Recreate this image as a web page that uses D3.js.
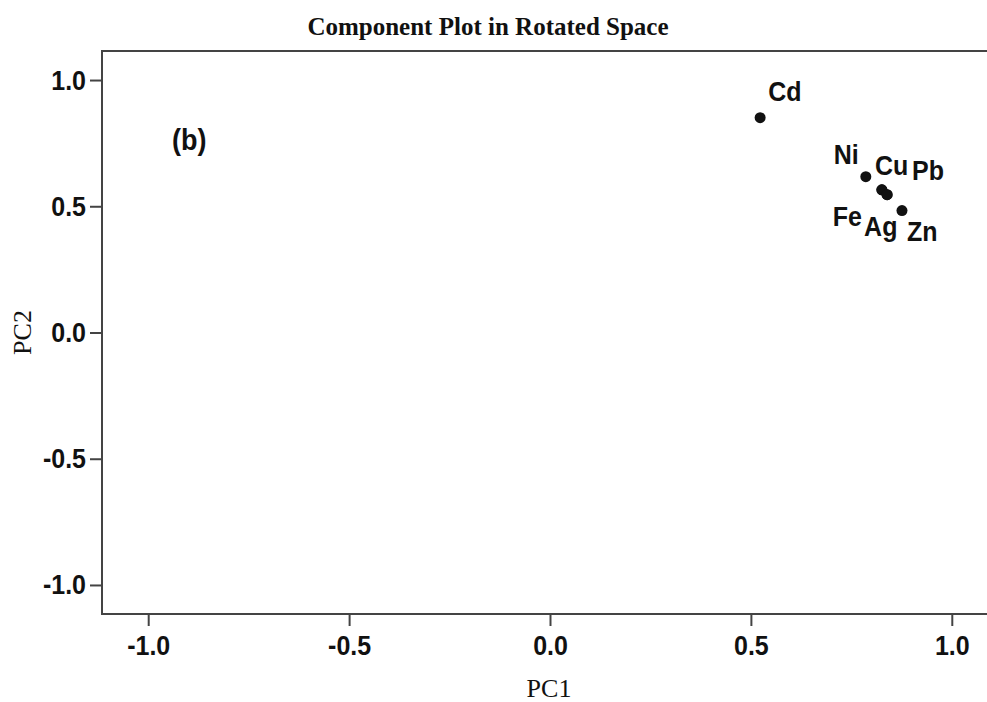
<!DOCTYPE html>
<html>
<head>
<meta charset="utf-8">
<script src="https://cdn.jsdelivr.net/npm/d3@7/dist/d3.min.js"></script>
<style>
  html, body { margin: 0; padding: 0; background: #fff; }
  svg { display: block; }
</style>
</head>
<body>
<div id="chart"></div>
<script>
// Rotated component loadings for each element
const elements = ["Cd", "Ni", "Cu", "Fe", "Pb", "Ag", "Zn"];
const pc1 = [0.523, 0.786, 0.826, 0.826, 0.839, 0.839, 0.876];
const pc2 = [0.851, 0.617, 0.565, 0.565, 0.546, 0.546, 0.483];
const tickValues = [-1.0, -0.5, 0.0, 0.5, 1.0];

// Label placement around each marker (pixel offsets, text anchor)
const labelPlacement = {
  Cd: { dx: 8,   dy: -17, anchor: "start" },
  Ni: { dx: -7,  dy: -13, anchor: "end" },
  Cu: { dx: -7,  dy: -15, anchor: "start" },
  Pb: { dx: 25,  dy: -15, anchor: "start" },
  Fe: { dx: -20, dy: 36,  anchor: "end" },
  Ag: { dx: -23, dy: 41,  anchor: "start" },
  Zn: { dx: 5,   dy: 30,  anchor: "start" }
};

const width = 987, height = 702;
const frame = { left: 102, top: 51, right: 998, bottom: 614 };
const stretch = 1.12; // vertical stretch of sans-serif glyphs

const points = elements.map((name, i) => ({ name, x: pc1[i], y: pc2[i] }));

const svg = d3.select("#chart").append("svg")
  .attr("width", width).attr("height", height);

const domain = [-1.115, 1.115];
const x = d3.scaleLinear().domain(domain).range([frame.left, frame.right]);
const y = d3.scaleLinear().domain(domain).range([frame.bottom, frame.top]);

const fmt = d => d.toFixed(1);
const sans = "'Liberation Sans', Arial, sans-serif";
const serif = "'Liberation Serif', 'Times New Roman', serif";
const ink = "#111";
const line = "#444";

// Plot frame
svg.append("rect")
  .attr("x", frame.left).attr("y", frame.top)
  .attr("width", frame.right - frame.left)
  .attr("height", frame.bottom - frame.top)
  .attr("fill", "none").attr("stroke", line).attr("stroke-width", 2);

// Bottom axis
const gx = svg.append("g")
  .attr("transform", `translate(0,${frame.bottom})`)
  .call(d3.axisBottom(x).tickValues(tickValues).tickFormat(fmt)
    .tickSize(12).tickPadding(7).tickSizeOuter(0));
gx.select(".domain").remove();
gx.selectAll(".tick line").attr("stroke", line).attr("stroke-width", 2);
gx.selectAll(".tick text").attr("fill", ink)
  .attr("transform", `scale(1,${stretch})`)
  .style("font-family", sans).style("font-weight", "bold").style("font-size", "25px");

// Left axis
const gy = svg.append("g")
  .attr("transform", `translate(${frame.left},0)`)
  .call(d3.axisLeft(y).tickValues(tickValues).tickFormat(fmt)
    .tickSize(12).tickPadding(4).tickSizeOuter(0));
gy.select(".domain").remove();
gy.selectAll(".tick line").attr("stroke", line).attr("stroke-width", 2);
gy.selectAll(".tick text").attr("fill", ink)
  .attr("transform", `scale(1,${stretch})`)
  .style("font-family", sans).style("font-weight", "bold").style("font-size", "25px");

// Title
svg.append("text")
  .attr("x", 488).attr("y", 35)
  .attr("text-anchor", "middle")
  .attr("fill", ink)
  .style("font-family", serif).style("font-weight", "bold").style("font-size", "25px")
  .text("Component Plot in Rotated Space");

// Axis titles
svg.append("text")
  .attr("x", 549).attr("y", 697)
  .attr("text-anchor", "middle").attr("fill", ink)
  .style("font-family", serif).style("font-size", "26px")
  .text("PC1");

svg.append("text")
  .attr("transform", `translate(31,${y(0)}) rotate(-90)`)
  .attr("text-anchor", "middle").attr("fill", ink)
  .style("font-family", serif).style("font-size", "26px")
  .text("PC2");

// Panel tag
svg.append("text")
  .attr("transform", `translate(172,150) scale(1,${stretch})`)
  .attr("fill", ink)
  .style("font-family", sans).style("font-weight", "bold").style("font-size", "27px")
  .text("(b)");

// Markers
svg.append("g").selectAll("circle")
  .data(points).join("circle")
  .attr("cx", d => x(d.x)).attr("cy", d => y(d.y))
  .attr("r", 5.5).attr("fill", ink);

// Marker labels
svg.append("g").selectAll("text")
  .data(points).join("text")
  .attr("transform", d =>
    `translate(${x(d.x) + labelPlacement[d.name].dx},${y(d.y) + labelPlacement[d.name].dy}) scale(1,${stretch})`)
  .attr("text-anchor", d => labelPlacement[d.name].anchor)
  .attr("fill", ink)
  .style("font-family", sans).style("font-weight", "bold").style("font-size", "25px")
  .text(d => d.name);
</script>
</body>
</html>
